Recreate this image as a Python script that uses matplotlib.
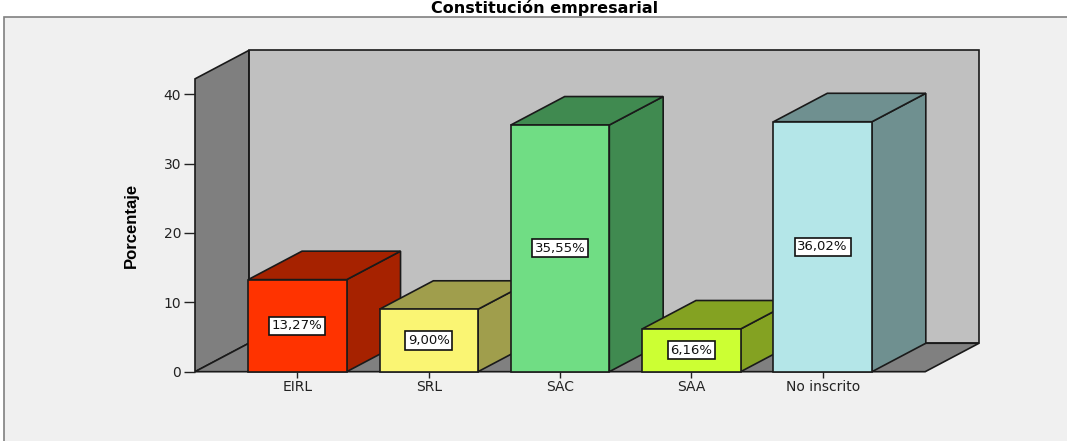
import matplotlib
matplotlib.use("Agg")
import matplotlib.pyplot as plt
from matplotlib.patches import Polygon, Rectangle

# datos
categorias = ["EIRL", "SRL", "SAC", "SAA", "No inscrito"]
porcentajes = [13.27, 9.00, 35.55, 6.16, 36.02]
etiquetas = ["13,27%", "9,00%", "35,55%", "6,16%", "36,02%"]
yticks = [0, 10, 20, 30, 40]

# colores (frente, lado/tapa)
frente = ["#FF3300", "#FAF573", "#70DD84", "#CCFF33", "#B4E6E8"]
lado = ["#A62200", "#A09E4C", "#408A50", "#84A222", "#6F9090"]

# geometria de la "3D"
dx, dy = 0.41, 4.1          # profundidad en unidades de datos
x0, x1 = -0.78, 4.78        # plano frontal
ytop = 42.2                 # alto de las paredes
ancho = 0.75
borde = "#1a1a1a"
lw = 1.2

fig = plt.figure(figsize=(10.67, 4.41), dpi=100)
fig.patch.set_facecolor("white")
fig.patches.append(Rectangle((4 / 1067, -0.02), 1.1, 0.9615 + 0.02,
                             transform=fig.transFigure, facecolor="#F0F0F0",
                             edgecolor="#808080", linewidth=1.2, zorder=-5))

ax = fig.add_axes([195 / 1067, 69.3 / 441, 784 / 1067, 321.3 / 441])
ax.patch.set_visible(False)
ax.set_xlim(x0, x1 + dx)
ax.set_ylim(0, ytop + dy)
for s in ax.spines.values():
    s.set_visible(False)


def cara(pts, color, z):
    ax.add_patch(Polygon(pts, closed=True, facecolor=color, edgecolor=borde,
                         lw=lw, zorder=z, clip_on=False, joinstyle="miter"))


# paredes y piso
cara([(x0 + dx, dy), (x1 + dx, dy), (x1 + dx, ytop + dy), (x0 + dx, ytop + dy)], "#C0C0C0", 0.5)
cara([(x0, 0), (x0, ytop), (x0 + dx, ytop + dy), (x0 + dx, dy)], "#7F7F7F", 0.6)
cara([(x0, 0), (x1, 0), (x1 + dx, dy), (x0 + dx, dy)], "#808080", 0.6)

xs = list(range(len(categorias)))
barras = ax.bar(xs, porcentajes, width=ancho, color=frente, edgecolor=borde, linewidth=lw)
for i, (b, v) in enumerate(zip(barras, porcentajes)):
    b.set_zorder(3 + 2 * i)
    b.set_clip_on(False)
    l, r = xs[i] - ancho / 2, xs[i] + ancho / 2
    cara([(r, 0), (r + dx, dy), (r + dx, v + dy), (r, v)], lado[i], 2 + 2 * i)
    cara([(l, v), (r, v), (r + dx, v + dy), (l + dx, v + dy)], lado[i], 2 + 2 * i)
    ax.text(xs[i], v / 2, etiquetas[i], ha="center", va="center", fontsize=9.5,
            family="DejaVu Sans", color="#111111", zorder=20,
            bbox=dict(boxstyle="square,pad=0.2", facecolor="white", edgecolor="#111111", lw=1.2))

ax.set_yticks(yticks)
ax.set_yticklabels([str(t) for t in yticks])
ax.set_xticks(xs)
ax.set_xticklabels(categorias)
ax.tick_params(axis="y", length=8, width=1, color="#222222", pad=2,
               labelsize=10, labelcolor="#222222")
ax.tick_params(axis="x", length=4, width=1, color="#222222", pad=2,
               labelsize=10, labelcolor="#222222")

fig.text(545 / 1067, 1 - 13 / 441, "Constitución empresarial", ha="center", va="baseline",
         fontsize=11.5, fontweight="bold", family="DejaVu Sans")
fig.text(131 / 1067, 1 - 225 / 441, "Porcentaje", ha="center", va="center", rotation=90,
         fontsize=12, fontweight="bold", family="Liberation Sans")

fig.savefig("out.png", dpi=100)
